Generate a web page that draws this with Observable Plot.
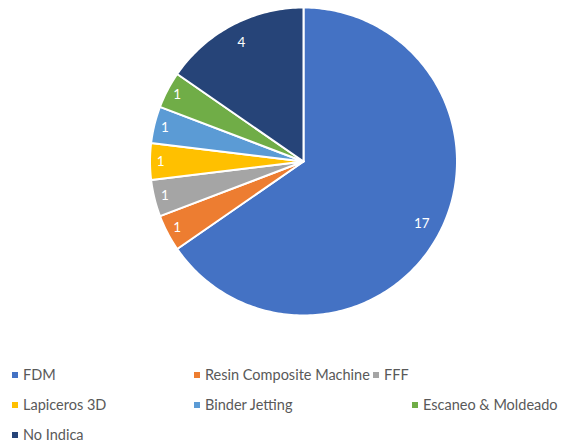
<!DOCTYPE html>
<html>
<head>
<meta charset="utf-8">
<script src="https://cdn.jsdelivr.net/npm/d3@7"></script>
<script src="https://cdn.jsdelivr.net/npm/@observablehq/plot@0.6"></script>
<style>
  body { margin: 0; background: #fff; font-family: Lato, "Open Sans", sans-serif; }
  #wrap { position: relative; width: 569px; height: 446px; }
  #chart { position: absolute; left: 0; top: 0; }
  .item { position: absolute; font-size: 14.5px; color: #595959; white-space: nowrap; line-height: 16px; }
  .sw { position: absolute; width: 6px; height: 6px; top: 5px; }
</style>
</head>
<body>
<div id="wrap"><div id="chart"></div></div>
<script>
const categories = ["FDM", "Resin Composite Machine", "FFF", "Lapiceros 3D", "Binder Jetting", "Escaneo & Moldeado", "No Indica"];
const values = [17, 1, 1, 1, 1, 1, 4];
const colors = ["#4472C4", "#ED7D31", "#A5A5A5", "#FFC000", "#5B9BD5", "#70AD47", "#264478"];

const data = categories.map((c, i) => ({cat: c, value: values[i]}));
const arcs = d3.pie().value(d => d.value).sort(null).startAngle(0).endAngle(2 * Math.PI)(data);

// build slice outlines from pie angles
const pts = [];
for (const a of arcs) {
  pts.push({cat: a.data.cat, x: 0, y: 0});
  const n = Math.max(2, Math.ceil((a.endAngle - a.startAngle) / (Math.PI / 180)));
  for (let k = 0; k <= n; k++) {
    const t = a.startAngle + (a.endAngle - a.startAngle) * k / n;
    pts.push({cat: a.data.cat, x: Math.sin(t), y: Math.cos(t)});
  }
}
const labels = arcs.map(a => {
  const m = (a.startAngle + a.endAngle) / 2;
  const r = a.data.value >= 4 ? 0.87 : 0.93;
  return {cat: a.data.cat, value: a.data.value, x: r * Math.sin(m), y: r * Math.cos(m)};
});

const W = 569, H = 340;
const plot = Plot.plot({
  width: W, height: H,
  marginLeft: 149.5, marginRight: 112.5, marginTop: 7, marginBottom: 25,
  x: {domain: [-1, 1], axis: null},
  y: {domain: [-1, 1], axis: null},
  color: {domain: categories, range: colors},
  style: {fontFamily: "Lato, 'Open Sans', sans-serif", background: "white"},
  marks: [
    Plot.line(pts, {x: "x", y: "y", z: "cat", fill: "cat", stroke: "white", strokeWidth: 2, curve: "linear-closed", strokeLinejoin: "round"}),
    Plot.text(labels, {x: "x", y: "y", text: d => String(d.value), fill: "white", fontSize: 13.5})
  ]
});
document.getElementById("chart").appendChild(plot);

// legend
const legendPos = [
  [12, 375], [194, 375], [373, 375],
  [12, 405], [194, 405], [412, 405],
  [12, 435]
];
const wrap = document.getElementById("wrap");
categories.forEach((c, i) => {
  const [lx, ly] = legendPos[i];
  const div = document.createElement("div");
  div.className = "item";
  div.style.left = lx + "px";
  div.style.top = (ly - 8) + "px";
  div.style.paddingLeft = "11px";
  const sw = document.createElement("span");
  sw.className = "sw";
  sw.style.left = "0px";
  sw.style.background = colors[i];
  div.appendChild(sw);
  div.appendChild(document.createTextNode(c));
  wrap.appendChild(div);
});
</script>
</body>
</html>
